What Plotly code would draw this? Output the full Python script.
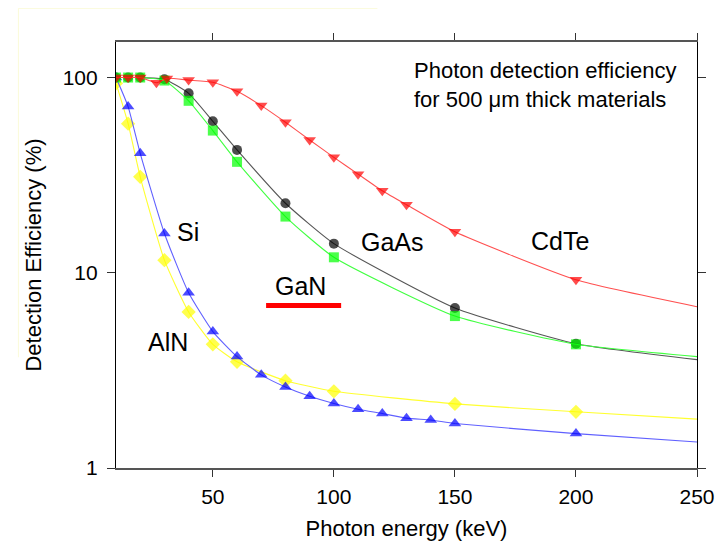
import math
import plotly.graph_objects as go

# Photon energies (keV) and detection efficiencies (%)
cdte_e = [10, 15, 20, 26.7, 31, 40, 50, 60, 70, 80, 90, 100, 110, 120, 130, 150, 200, 250]
cdte_v = [100, 100, 100, 94, 99, 97, 94.6, 85, 71.8, 59, 47.9, 39, 32, 26.3, 22.3, 16.2, 9.2, 6.7]

gaas_e = [10, 15, 20, 30, 40, 50, 60, 80, 100, 150, 200, 250]
gaas_v = [100, 100, 100, 98, 83, 59.7, 42.6, 22.7, 14.1, 6.6, 4.33, 3.59]

gan_e = [10, 15, 20, 30, 40, 50, 60, 80, 100, 150, 200, 250]
gan_v = [100, 100, 100, 96.5, 76, 53.5, 37, 19.4, 12.0, 6.0, 4.3, 3.72]

si_e = [10, 15, 20, 30, 40, 50, 60, 70, 80, 90, 100, 110, 120, 130, 140, 150, 200, 250]
si_v = [100, 71, 40.9, 15.9, 7.9, 5.0, 3.72, 3.0, 2.6, 2.33, 2.14, 2.0, 1.9, 1.8, 1.76, 1.69, 1.5, 1.36]

aln_e = [10, 15, 20, 30, 40, 50, 60, 80, 100, 150, 200, 250]
aln_v = [93.5, 58, 31, 11.6, 6.3, 4.3, 3.5, 2.8, 2.47, 2.13, 1.94, 1.78]

labels = ["Si", "GaAs", "CdTe", "GaN", "AlN"]
label_e = [39.9, 124.1, 193.4, 86.3, 31.6]
label_v = [16.1, 14.3, 14.6, 8.6, 4.4]

x_ticks = [50, 100, 150, 200, 250]
y_ticks = [1, 10, 100]

FONT = "Liberation Sans, Arial, sans-serif"

fig = go.Figure()

def add_series(xs, ys, line_color, marker_color, symbol, size):
    sizes = [size] * (len(xs) - 1) + [0]
    fig.add_trace(go.Scatter(
        x=xs, y=ys, mode="lines+markers",
        line=dict(color=line_color, width=1.1, shape="spline", smoothing=0.5),
        marker=dict(color=marker_color, symbol=symbol, size=sizes, line=dict(width=0)),
        showlegend=False, hoverinfo="x+y"))

add_series(aln_e, aln_v, "#ffff30", "#ffff00", "diamond", 11)
add_series(si_e, si_v, "#6060ff", "#0000ff", "triangle-up", 11)
add_series(gaas_e, gaas_v, "#555555", "#000000", "circle", 10)
add_series(gan_e, gan_v, "#40ff40", "#00ff00", "square", 10)
add_series(cdte_e, cdte_v, "#ff5050", "#ff0000", "triangle-down", 11)

for t, e, v in zip(labels, label_e, label_v):
    fig.add_annotation(x=e, y=math.log10(v), yref="y", xref="x", text=t,
                       showarrow=False, xanchor="center", yanchor="middle",
                       font=dict(family=FONT, size=25, color="black"))

fig.add_annotation(x=0.509, y=0.899, xref="paper", yref="paper",
                   text="Photon detection efficiency<br>for 500 \u03bcm thick materials",
                   showarrow=False, xanchor="left", yanchor="middle", align="left",
                   font=dict(family=FONT, size=22, color="black"))

# GaN red bar
fig.add_shape(type="line", xref="x", yref="y", x0=72, x1=103, y0=6.8, y1=6.8,
              line=dict(color="#ff0000", width=5))

# faint outer frame
fig.add_shape(type="line", xref="paper", yref="paper", x0=-0.168, x1=0.45,
              y0=1.079, y1=1.079, line=dict(color="#fbfbd8", width=1))
fig.add_shape(type="line", xref="paper", yref="paper", x0=-0.168, x1=-0.168,
              y0=1.079, y1=0.26, line=dict(color="#fbfbd8", width=1))

fig.update_xaxes(type="linear", range=[10, 250], tickvals=x_ticks,
                 showline=True, linecolor="#555555", linewidth=1.5, mirror="ticks",
                 ticks="outside", ticklen=7, tickcolor="#333333",
                 showgrid=False, zeroline=False, ticklabelstandoff=2,
                 tickfont=dict(family=FONT, size=21, color="black"),
                 title=dict(text="Photon energy (keV)", standoff=14,
                            font=dict(family=FONT, size=22, color="black")))
fig.update_yaxes(type="log", range=[0, 2.182], tickvals=y_ticks,
                 ticktext=[str(v) for v in y_ticks],
                 showline=True, linecolor="#000000", linewidth=1.2, mirror="ticks",
                 ticks="outside", ticklen=8, tickcolor="#333333",
                 showgrid=False, zeroline=False, ticklabelstandoff=5,
                 tickfont=dict(family=FONT, size=21, color="black"),
                 title=dict(text="Detection Efficiency (%)", standoff=14,
                            font=dict(family=FONT, size=22, color="black")))

fig.update_layout(width=728, height=543,
                  margin=dict(l=108, r=39, t=34, b=83),
                  paper_bgcolor="white", plot_bgcolor="white",
                  font=dict(family=FONT))

fig.write_html("out.html")
